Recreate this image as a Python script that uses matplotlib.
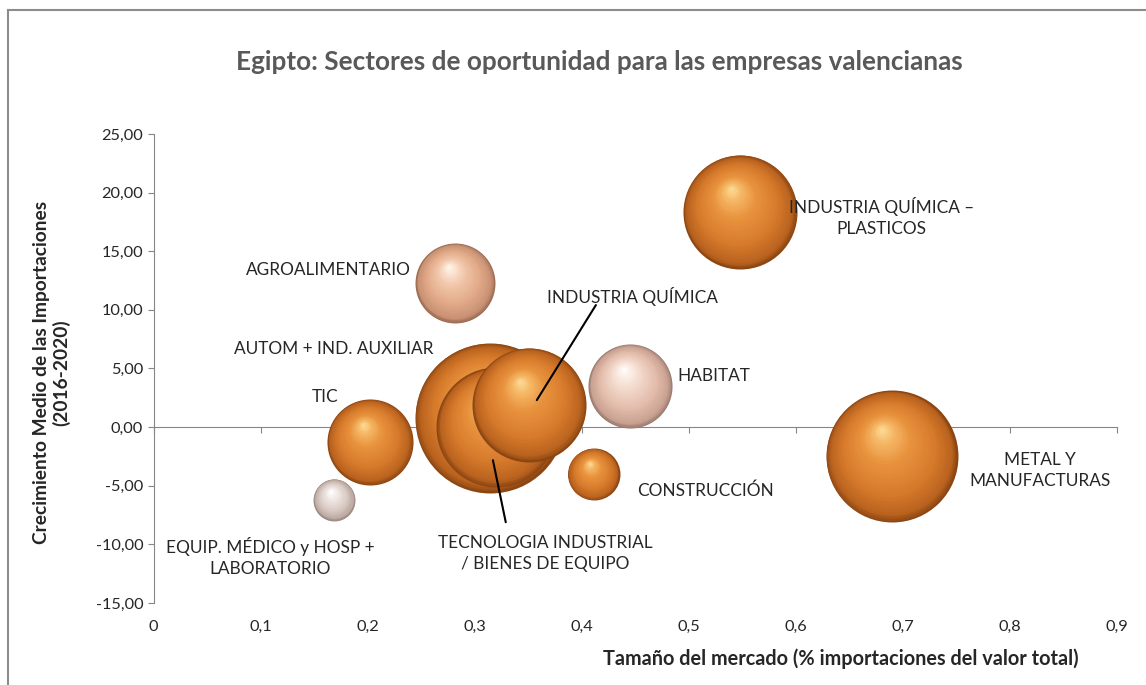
import matplotlib
matplotlib.use('Agg')
import matplotlib.pyplot as plt
import numpy as np
from matplotlib.colors import LinearSegmentedColormap
from matplotlib.transforms import ScaledTranslation
from matplotlib.lines import Line2D

plt.rcParams['font.family'] = ['Lato', 'DejaVu Sans']

# Data
sectores = ['EQUIP. MÉDICO y HOSP +\nLABORATORIO', 'TIC', 'AGROALIMENTARIO',
            'AUTOM + IND. AUXILIAR', 'TECNOLOGIA INDUSTRIAL\n/ BIENES DE EQUIPO',
            'INDUSTRIA QUÍMICA', 'HABITAT', 'CONSTRUCCIÓN',
            'INDUSTRIA QUÍMICA –\nPLASTICOS', 'METAL Y\nMANUFACTURAS']
tamano = [0.1685, 0.202, 0.2815, 0.314, 0.320, 0.3506, 0.445, 0.411, 0.5476, 0.6895]
crecimiento = [-6.2, -1.28, 12.29, 0.77, 0.0, 1.92, 3.5, -4.0, 18.35, -2.47]
burbuja = [7.8, 32.9, 28.4, 100, 64, 57.8, 31.4, 12.0, 57.8, 77.4]
tono = ['claro', 'naranja', 'salmon', 'naranja', 'naranja', 'naranja',
        'rosa', 'naranja', 'naranja', 'naranja']

# label positions (data coords) and leader lines
label_pos = [(0.1088, -11.09), (0.160, 2.56), (0.163, 13.40), (0.1685, 6.66),
             (0.3655, -10.75), (0.447, 11.18), (0.5233, 4.35), (0.516, -5.46),
             (0.680, 17.92), (0.8277, -3.67)]
leaders = [((0.4132, 10.41), (0.358, 2.30)),
           ((0.329, -8.11), (0.317, -2.82))]

xticks = [0, 0.1, 0.2, 0.3, 0.4, 0.5, 0.6, 0.7, 0.8, 0.9]
xtick_labels = ['0', '0,1', '0,2', '0,3', '0,4', '0,5', '0,6', '0,7', '0,8', '0,9']
yticks = [-15, -10, -5, 0, 5, 10, 15, 20, 25]
ytick_labels = ['-15,00', '-10,00', '-5,00', '0,00', '5,00', '10,00', '15,00', '20,00', '25,00']

# colour ramps: edge -> body -> highlight
ramps = {
    'naranja': [(0.0, '#8c4612'), (0.07, '#b9621f'), (0.3, '#d67a2b'),
                (0.65, '#e9933e'), (0.88, '#f6b967'), (1.0, '#fbd690')],
    'salmon': [(0.0, '#9a6a52'), (0.08, '#c99274'), (0.35, '#e2aa88'),
               (0.7, '#f2c8ac'), (1.0, '#fff2e6')],
    'rosa': [(0.0, '#9a7a70'), (0.08, '#caa292'), (0.35, '#e4bdac'),
             (0.7, '#f4dccf'), (1.0, '#fffaf5')],
    'claro': [(0.0, '#968680'), (0.08, '#bdaaa2'), (0.35, '#d9cac3'),
              (0.7, '#eee5e1'), (1.0, '#ffffff')],
}
cmaps = {k: LinearSegmentedColormap.from_list(k, v) for k, v in ramps.items()}

fig = plt.figure(figsize=(11.46, 6.85), dpi=100)
ax = fig.add_axes([0.134, 0.1197, 0.8407, 0.6847])

ax.set_xlim(0, 0.9)
ax.set_ylim(-15, 25)

# bubbles: area proportional to value, largest ~150 px across
max_r_pt = 75 * 0.72
order = np.argsort(burbuja)[::-1]
n_layers = 50
for i in order:
    r = max_r_pt * np.sqrt(burbuja[i] / max(burbuja))
    cmap = cmaps[tono[i]]
    for k in range(n_layers):
        t = k / (n_layers - 1)
        rr = r * (1 - 0.96 * t)
        dx = -0.15 * r * t
        dy = 0.40 * r * t
        tr = ax.transData + ScaledTranslation(dx / 72, dy / 72, fig.dpi_scale_trans)
        ax.scatter([tamano[i]], [crecimiento[i]], s=(2 * rr) ** 2,
                   color=cmap(t), linewidths=0, transform=tr, zorder=3)

# labels
for i, name in enumerate(sectores):
    ax.text(label_pos[i][0], label_pos[i][1], name, ha='center', va='center',
            fontsize=12.4, color='#262626', linespacing=1.4, zorder=5)

for start, end in leaders:
    ax.annotate('', xy=end, xytext=start,
                arrowprops=dict(arrowstyle='-', color='black', lw=1.5,
                                shrinkA=0, shrinkB=0), zorder=6)

# axes styling
axis_col = '#868686'
for s in ['top', 'right']:
    ax.spines[s].set_visible(False)
ax.spines['left'].set_color(axis_col)
ax.spines['bottom'].set_color(axis_col)
ax.spines['bottom'].set_position(('data', 0))
ax.spines['bottom'].set_zorder(1)
ax.set_xticks(xticks)
ax.set_xticklabels(xtick_labels)
ax.set_yticks(yticks)
ax.set_yticklabels(ytick_labels)
ax.tick_params(axis='both', colors=axis_col, labelcolor='#262626',
               labelsize=11.8, direction='out', length=4, width=0.8)
ax.tick_params(axis='x', pad=135)
ax.patch.set_alpha(0)

fig.text(0.5227, 0.909, 'Egipto: Sectores de oportunidad para las empresas valencianas',
         ha='center', va='center', fontsize=18.8, fontweight='bold', color='#595959')
fig.text(0.734, 0.039, 'Tamaño del mercado (% importaciones del valor total)',
         ha='center', va='center', fontsize=14.3, fontweight='bold', color='#262626')
fig.text(0.045, 0.456, 'Crecimiento Medio de las Importaciones\n(2016-2020)',
         ha='center', va='center', rotation=90, fontsize=13.8, fontweight='bold',
         color='#262626', linespacing=1.1)

# chart area border (left and top visible)
fig.add_artist(Line2D([0.007, 0.007], [0.0, 0.985], color='#8c8c8c', lw=1.5,
                      transform=fig.transFigure))
fig.add_artist(Line2D([0.007, 1.0], [0.985, 0.985], color='#8c8c8c', lw=1.5,
                      transform=fig.transFigure))

fig.savefig('out.png', dpi=100)
